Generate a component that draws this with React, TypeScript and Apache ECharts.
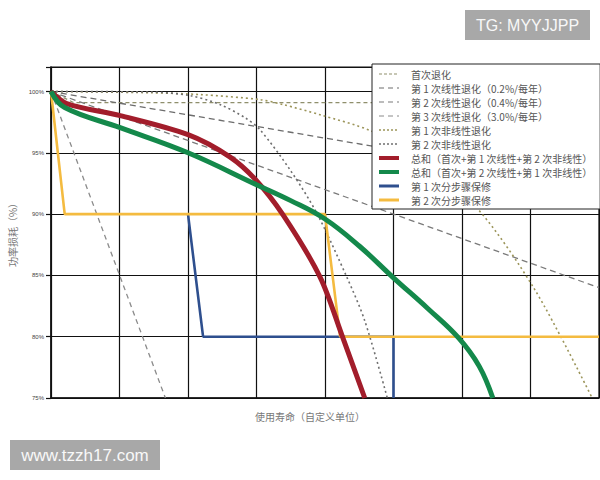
import React, { useEffect, useRef } from 'react';
import * as echarts from 'echarts';

// Axis
const xMax = 8;
const yMin = 75;
const yMax = 102;

// Legend / series names (legend order)
const seriesNames = [
  '首次退化',
  '第 1 次线性退化（0.2%/每年）',
  '第 2 次线性退化（0.4%/每年）',
  '第 3 次线性退化（3.0%/每年）',
  '第 1 次非线性退化',
  '第 2 次非线性退化',
  '总和（首次+第 1 次线性+第 2 次非线性）',
  '总和（首次+第 2 次线性+第 1 次非线性）',
  '第 1 次分步骤保修',
  '第 2 次分步骤保修',
];

// Series values [x, power %]
const initialDeg = [[0, 100], [0.33, 99.1], [8, 99.1]];
const linear1 = [[0, 100], [8, 92.4]];
const linear2 = [[0, 100], [8, 84.0]];
const linear3 = [[0, 100], [1.67, 75]];
const nonlinear1 = [
  [0, 100], [1.45, 99.9], [2.18, 99.75], [3.05, 99.34], [3.39, 98.93], [3.93, 98.1],
  [4.7, 96.72], [5.39, 94.4], [6.22, 90.49], [7.07, 83.77], [7.9, 75],
];
const nonlinear2 = [
  [0, 100], [1.45, 99.96], [2.03, 99.67], [2.47, 98.93], [2.83, 97.87], [3.05, 96.89],
  [3.49, 93.61], [3.88, 90.08], [4.32, 84.84], [4.58, 81.31], [4.91, 75],
];
const totalRed = [
  [0, 100], [0.23, 99.02], [1.01, 98.03], [2.0, 96.48], [2.61, 94.67], [2.99, 92.79],
  [3.39, 89.92], [3.93, 84.84], [4.26, 79.92], [4.58, 75],
];
const totalGreen = [
  [0, 100], [0.2, 98.69], [1.01, 97.05], [2.0, 95.0], [3.0, 92.4], [3.5, 91.1],
  [4.0, 89.6], [4.5, 87.4], [5.0, 84.8], [5.5, 82.3], [5.95, 79.9], [6.25, 77.6], [6.45, 75],
];
const warranty1 = [[2, 90], [2.22, 80], [5, 80], [5, 75]];
const warranty2 = [[0, 100], [0.2, 90], [4.0, 90], [4.22, 80], [8, 80]];

const CJK = "'Noto Sans CJK SC', 'Noto Sans', sans-serif";

export default function App() {
  const ref = useRef<HTMLDivElement>(null);
  useEffect(() => {
    const chart = echarts.init(ref.current!, null, { renderer: 'svg' });

    const thin = (name: string, data: number[][], color: string, type: any, width: number, smooth: any = false, z = 2) => ({
      name, type: 'line', data, symbol: 'none', smooth, z,
      lineStyle: { color, type, width },
      itemStyle: { color },
    });

    const series = [
      thin(seriesNames[0], initialDeg, '#8f8f6c', [4, 3], 1.3),
      thin(seriesNames[1], linear1, '#6d6d6d', [6, 4], 1.3),
      thin(seriesNames[2], linear2, '#7a7a7a', [6, 4], 1.3),
      thin(seriesNames[3], linear3, '#8a8a8a', [5, 4], 1.3),
      thin(seriesNames[4], nonlinear1, '#9c955a', [2, 3], 1.6, 0.3),
      thin(seriesNames[5], nonlinear2, '#6f6f6f', [2, 3], 1.6, 0.3),
      thin(seriesNames[8], warranty1, '#2e4f8e', 'solid', 2.6, false, 3),
      thin(seriesNames[9], warranty2, '#f4bb40', 'solid', 2.6, false, 4),
      thin(seriesNames[6], totalRed, '#a21d2b', 'solid', 5, 0.3, 5),
      thin(seriesNames[7], totalGreen, '#14894b', 'solid', 5, 0.4, 6),
    ];

    const legendLineStyle: Record<string, any> = {
      [seriesNames[0]]: { width: 1.2, type: [3, 2] },
      [seriesNames[1]]: { width: 1.2, type: [5, 4] },
      [seriesNames[2]]: { width: 1.2, type: [5, 4] },
      [seriesNames[3]]: { width: 1.0, type: [5, 4] },
      [seriesNames[4]]: { width: 1.6, type: [2, 2] },
      [seriesNames[5]]: { width: 1.6, type: [2, 2] },
      [seriesNames[6]]: { width: 4, type: 'solid' },
      [seriesNames[7]]: { width: 4, type: 'solid' },
      [seriesNames[8]]: { width: 3, type: 'solid' },
      [seriesNames[9]]: { width: 3, type: 'solid' },
    };

    chart.setOption({
      animation: false,
      backgroundColor: '#fff',
      textStyle: { fontFamily: CJK },
      grid: {
        left: 51, right: 1, top: 67, bottom: 82,
        show: true, borderColor: '#111', borderWidth: 1.2, backgroundColor: '#fff',
        outerBoundsMode: 'none',
      },
      xAxis: {
        type: 'value', min: 0, max: xMax, interval: 1,
        axisLabel: { show: false },
        axisTick: { show: false },
        axisLine: { show: true, lineStyle: { color: '#111', width: 1.5 } },
        splitLine: { show: true, lineStyle: { color: '#111', width: 1.2 } },
        name: '使用寿命（自定义单位）',
        nameLocation: 'middle',
        nameGap: 13,
        nameTextStyle: { fontSize: 10, color: '#777', fontFamily: CJK, padding: [0, 30, 0, 0] },
      },
      yAxis: {
        type: 'value', min: yMin, max: yMax, interval: 5,
        axisLine: { show: true, lineStyle: { color: '#111', width: 1.5 } },
        axisTick: { show: true, length: 5, lineStyle: { color: '#111', width: 1.2 } },
        axisLabel: {
          fontSize: 6, color: '#444', margin: 7, fontFamily: "'Liberation Sans', sans-serif",
          formatter: (v: number) => (v % 5 === 0 ? v + '%' : ''),
        },
        splitLine: { show: true, lineStyle: { color: '#111', width: 1.2 } },
        name: '功率损耗（%）',
        nameLocation: 'middle',
        nameGap: 31,
        nameRotate: 90,
        nameTextStyle: { fontSize: 10, color: '#777', fontFamily: CJK },
      },
      legend: {
        orient: 'vertical',
        left: 372,
        top: 64,
        padding: [4, 8, 3, 5],
        itemGap: 2,
        itemWidth: 20,
        itemHeight: 10,
        backgroundColor: '#fff',
        borderColor: '#222',
        borderWidth: 1,
        selectedMode: false,
        textStyle: { fontSize: 10, color: '#555', lineHeight: 12, padding: [0, 0, 0, 7], fontFamily: CJK },
        data: seriesNames.map((n) => ({
          name: n,
          lineStyle: legendLineStyle[n],
          itemStyle: { opacity: 0, borderWidth: 0 },
        })),
      },
      graphic: [
        { type: 'rect', shape: { x: 465, y: 10, width: 125, height: 30 }, style: { fill: '#a8a8a8' }, z: 100 },
        {
          type: 'text', x: 527.5, y: 25, z: 101,
          style: {
            text: 'TG: MYYJJPP', fill: '#f8f8f8', font: '16px "Liberation Sans", sans-serif',
            align: 'center', verticalAlign: 'middle', textAlign: 'center', textVerticalAlign: 'middle',
          },
        },
        { type: 'rect', shape: { x: 10, y: 440, width: 150, height: 30 }, style: { fill: '#a8a8a8' }, z: 100 },
        {
          type: 'text', x: 85, y: 455, z: 101,
          style: {
            text: 'www.tzzh17.com', fill: '#f8f8f8', font: '17px "Liberation Sans", sans-serif',
            align: 'center', verticalAlign: 'middle', textAlign: 'center', textVerticalAlign: 'middle',
          },
        },
      ],
      series,
    });

    return () => chart.dispose();
  }, []);

  return <div ref={ref} style={{ position: 'fixed', left: 0, top: 0, width: 600, height: 480 }} />;
}
